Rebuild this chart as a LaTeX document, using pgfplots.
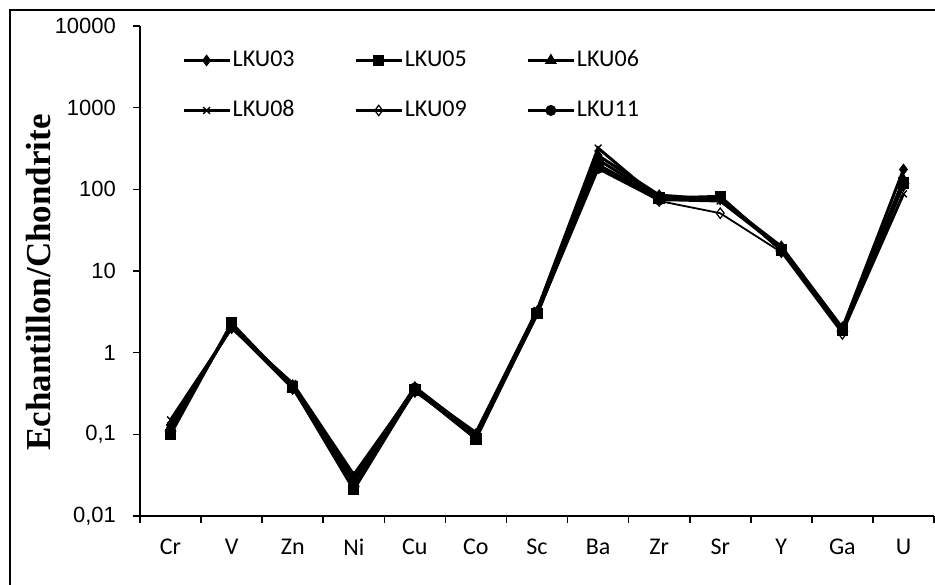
\documentclass[border=0pt]{standalone}
\usepackage{pgfplots}
\pgfplotsset{compat=1.18}
\usepackage{fontspec}
\newfontfamily\carl{Carlito}
\newfontfamily\arialf{Liberation Sans}
\newfontfamily\timesf{Liberation Serif}
\begin{document}
\begin{tikzpicture}
\begin{axis}[
  scale only axis, width=397pt, height=245pt,
  ymode=log, ymin=0.01, ymax=10000,
  xmin=-0.5, xmax=12.5,
  axis x line*=bottom, axis y line*=left,
  axis line style={line width=0.8pt,-},
  tick align=outside,
  major tick length=3.5pt,
  tick style={line width=0.8pt,black},
  ytick={0.01,0.1,1,10,100,1000,10000},
  yticklabels={{0,01},{0,1},1,10,100,1000,10000},
  yminorticks=false,
  yticklabel style={font=\arialf\fontsize{11}{13}\selectfont, xshift=-5pt},
  xtick={-0.5,0.5,1.5,2.5,3.5,4.5,5.5,6.5,7.5,8.5,9.5,10.5,11.5,12.5},
  xticklabels={,,,,,,,,,,,,,,},
  extra x ticks={0,1,2,3,4,5,6,7,8,9,10,11,12},
  extra x tick labels={Cr,V,Zn,Ni,Cu,Co,Sc,Ba,Zr,Sr,Y,Ga,U},
  extra x tick style={major tick length=0pt, xticklabel style={font=\carl\fontsize{12}{14}\selectfont, yshift=-8pt}},
  legend columns=3,
  legend style={draw=none, fill=none, at={(rel axis cs:0.053,0.955)}, anchor=north west,
    inner sep=0pt, font=\carl\fontsize{12}{14}\selectfont,
    nodes={inner xsep=1pt, inner ysep=0pt, text height=9pt, text depth=3pt},
    row sep=13pt,
    /tikz/every even column/.append style={column sep=29pt}},
  legend cell align=left,
  legend image code/.code={\draw[mark repeat=2,mark phase=2,line width=1.1pt] plot coordinates {(0pt,0pt)(11.5pt,0pt)(23pt,0pt)};},
  every axis plot/.append style={black, line width=1.5pt},
]
\addplot[mark=diamond*, mark size=2.6pt, mark options={line width=0.5pt}] coordinates {
(0,0.13)(1,2.1)(2,0.40)(3,0.028)(4,0.38)(5,0.10)(6,3.2)(7,260)(8,85)(9,75)(10,20)(11,2.0)(12,175)};
\addlegendentry{LKU03}
\addplot[mark=square*, mark size=2.6pt, mark options={line width=0.5pt}] coordinates {
(0,0.10)(1,2.3)(2,0.38)(3,0.021)(4,0.35)(5,0.088)(6,3.0)(7,200)(8,78)(9,82)(10,18)(11,1.9)(12,120)};
\addlegendentry{LKU05}
\addplot[mark=triangle*, mark size=3pt, mark options={line width=0.5pt}] coordinates {
(0,0.12)(1,2.1)(2,0.37)(3,0.025)(4,0.34)(5,0.095)(6,2.9)(7,230)(8,80)(9,78)(10,19)(11,2.0)(12,130)};
\addlegendentry{LKU06}
\addplot[mark=x, mark size=2.4pt, mark options={line width=0.7pt}] coordinates {
(0,0.15)(1,2.0)(2,0.42)(3,0.032)(4,0.36)(5,0.105)(6,3.3)(7,320)(8,75)(9,72)(10,19)(11,1.8)(12,88)};
\addlegendentry{LKU08}
\addplot[mark=diamond, mark size=2.6pt, mark options={line width=0.6pt, fill=white}, line width=0.9pt] coordinates {
(0,0.13)(1,2.0)(2,0.36)(3,0.030)(4,0.33)(5,0.10)(6,3.1)(7,190)(8,72)(9,51)(10,17)(11,1.7)(12,110)};
\addlegendentry{LKU09}
\addplot[mark=*, mark size=2.5pt, mark options={line width=0.5pt}] coordinates {
(0,0.11)(1,2.2)(2,0.39)(3,0.027)(4,0.37)(5,0.098)(6,3.0)(7,180)(8,74)(9,80)(10,18)(11,1.9)(12,115)};
\addlegendentry{LKU11}
\end{axis}
\node[rotate=90, font=\timesf\bfseries\fontsize{17.5}{20}\selectfont] at (-50.5pt,116.7pt) {Echantillon/Chondrite};
\draw[line width=1.2pt] (-65pt,-50pt) -- (-65pt,253pt) -- (420pt,253pt);
\pgfresetboundingbox
\path[use as bounding box] (-70pt,-34pt) rectangle (397.5pt,258pt);
\end{tikzpicture}
\end{document}
